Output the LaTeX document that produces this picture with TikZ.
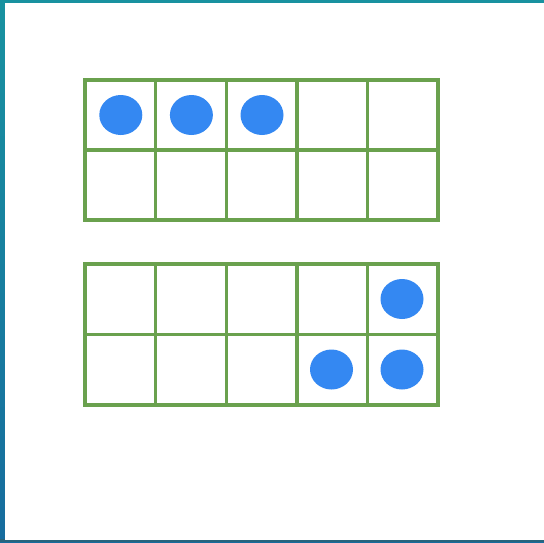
\documentclass[tikz,border=0pt]{standalone}
\usetikzlibrary{shapes.geometric}
\definecolor{gridgreen}{RGB}{106,161,78}
\definecolor{dotblue}{RGB}{52,136,242}
\definecolor{edgeteal}{RGB}{24,146,160}
\definecolor{edgeblue}{RGB}{22,108,158}
\definecolor{edgedark}{RGB}{40,100,125}
\tikzset{
  gridline/.style={draw=gridgreen, line width=3.4pt},
  counter/.style={ellipse, fill=dotblue, minimum width=43pt, minimum height=40pt, inner sep=0pt}
}
\begin{document}
\begin{tikzpicture}[x=1pt,y=-1pt]
\useasboundingbox (0,0) rectangle (544,542);
% background frame
\shade[top color=edgeteal, bottom color=edgeblue] (0,0) rectangle (544,542);
\fill[edgedark] (0,539) rectangle (544,542);
\fill[white] (5,2.5) rectangle (544,539.5);
% top frame
\draw[gridline] (85,80) rectangle (438,220);
\draw[gridline] (85,150) -- (438,150);
\foreach \i in {1,...,4} {\draw[gridline] ({85+\i*70.6},80) -- ({85+\i*70.6},220);}
% bottom frame
\draw[gridline] (85,264) rectangle (438,405);
\draw[gridline] (85,334.5) -- (438,334.5);
\foreach \i in {1,...,4} {\draw[gridline] ({85+\i*70.6},264) -- ({85+\i*70.6},405);}
% counters
\node[counter] (a1) at (120.8,115) {};
\node[counter] (a2) at (191.4,115) {};
\node[counter] (a3) at (262,115) {};
\node[counter] (b1) at (402,299) {};
\node[counter] (b2) at (331.5,369.5) {};
\node[counter] (b3) at (402,369.5) {};
\end{tikzpicture}
\end{document}
